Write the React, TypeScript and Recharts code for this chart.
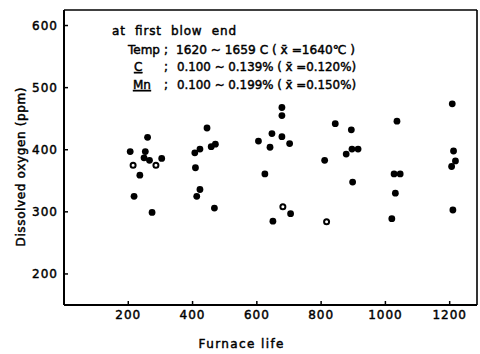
import { ScatterChart, Scatter, XAxis, YAxis, ReferenceLine } from "recharts";

// furnace life / dissolved oxygen (ppm), solid dots
const solidLife = [
  206, 218, 236, 249, 253, 260, 266, 274, 304,
  407, 409, 413, 423, 423, 445, 458, 468, 471,
  605, 625, 641, 647, 650, 678, 678, 678, 702, 705,
  811, 844, 878, 894, 896, 898, 915,
  1020, 1027, 1031, 1036, 1046,
  1206, 1208, 1210, 1212, 1218,
];
const solidOxygen = [
  397, 325, 359, 387, 397, 420, 383, 299, 386,
  395, 371, 325, 401, 336, 435, 405, 306, 409,
  414, 361, 404, 426, 285, 468, 455, 421, 410, 297,
  383, 442, 393, 432, 401, 348, 401,
  289, 361, 330, 446, 361,
  373, 474, 303, 398, 382,
];

// open circles
const openLife = [215, 286, 681, 817];
const openOxygen = [375, 375, 308, 284];

const xTicks = [200, 400, 600, 800, 1000, 1200];
const yTicks = [200, 300, 400, 500, 600];

const solidData = solidLife.map((x, i) => ({ x, y: solidOxygen[i] }));
const openData = openLife.map((x, i) => ({ x, y: openOxygen[i] }));

const FONT = "'DejaVu Sans', sans-serif";

const SolidDot = (p: any) => <circle cx={p.cx} cy={p.cy} r={3.4} fill="#000" />;
const OpenDot = (p: any) => (
  <circle cx={p.cx} cy={p.cy} r={2.5} fill="#fff" stroke="#000" strokeWidth={2} />
);

const YTick = (p: any) => (
  <g>
    <line x1={p.x + 6} x2={p.x + 10} y1={p.y} y2={p.y} stroke="#000" strokeWidth={1.5} />
    <text
      x={p.x}
      y={p.y + 4.5}
      textAnchor="end"
      fontFamily={FONT}
      fontSize={12}
      letterSpacing={1}
      fill="#000"
      stroke="#000"
      strokeWidth={0.45}
    >
      {p.payload.value}
    </text>
  </g>
);

const XTick = (p: any) => (
  <g>
    <line x1={p.x} x2={p.x} y1={305} y2={301} stroke="#000" strokeWidth={1.5} />
    <text
      x={p.x}
      y={318.5}
      textAnchor="middle"
      fontFamily={FONT}
      fontSize={12}
      letterSpacing={1}
      fill="#000"
      stroke="#000"
      strokeWidth={0.45}
    >
      {p.payload.value}
    </text>
  </g>
);

export default function App() {
  return (
    <div style={{ position: "absolute", left: 0, top: 0, width: 480, height: 354, background: "#fff" }}>
      <ScatterChart width={480} height={354} margin={{ top: 10, right: 3, left: 24, bottom: 0 }}>
        <XAxis
          type="number"
          dataKey="x"
          domain={[0, 1285]}
          ticks={xTicks}
          height={49}
          tickSize={0}
          tickMargin={0}
          tickLine={false}
          tick={XTick}
          axisLine={{ stroke: "#000", strokeWidth: 2 }}
        />
        <YAxis
          type="number"
          dataKey="y"
          domain={[150, 625]}
          ticks={yTicks}
          width={40}
          tickSize={0}
          tickMargin={6}
          tickLine={false}
          tick={YTick}
          axisLine={{ stroke: "#000", strokeWidth: 2 }}
        />
        <ReferenceLine y={625} stroke="#000" strokeWidth={1.6} />
        <ReferenceLine x={1285} stroke="#000" strokeWidth={1.6} />
        <Scatter data={solidData} shape={SolidDot} isAnimationActive={false} />
        <Scatter data={openData} shape={OpenDot} isAnimationActive={false} />
      </ScatterChart>
      <svg
        width={480}
        height={354}
        style={{ position: "absolute", left: 0, top: 0, pointerEvents: "none" }}
        fontFamily={FONT}
        fontSize={12}
        fill="#000"
        stroke="#000"
        strokeWidth={0.45}
      >
        <text x={112} y={35} textLength={124} lengthAdjust="spacing" style={{ whiteSpace: "pre" }}>
          at  first  blow  end
        </text>
        <text x={128} y={54}>Temp</text>
        <text x={164} y={54}>;</text>
        <text x={176} y={54} textLength={179} lengthAdjust="spacingAndGlyphs">
          1620 ~ 1659 C ( x̄ =1640℃ )
        </text>
        <text x={134} y={71} textDecoration="underline">C</text>
        <text x={164} y={71}>;</text>
        <text x={177} y={71} textLength={179} lengthAdjust="spacingAndGlyphs">
          0.100 ~ 0.139% ( x̄ =0.120%)
        </text>
        <text x={133} y={89} textDecoration="underline">Mn</text>
        <text x={164} y={89}>;</text>
        <text x={177} y={89} textLength={179} lengthAdjust="spacingAndGlyphs">
          0.100 ~ 0.199% ( x̄ =0.150%)
        </text>
        <text
          x={0}
          y={0}
          transform="translate(25 167) rotate(-90)"
          textAnchor="middle"
          textLength={159}
          lengthAdjust="spacing"
        >
          Dissolved oxygen (ppm)
        </text>
        <text x={241} y={348} textAnchor="middle" textLength={85} lengthAdjust="spacing">
          Furnace life
        </text>
      </svg>
    </div>
  );
}
